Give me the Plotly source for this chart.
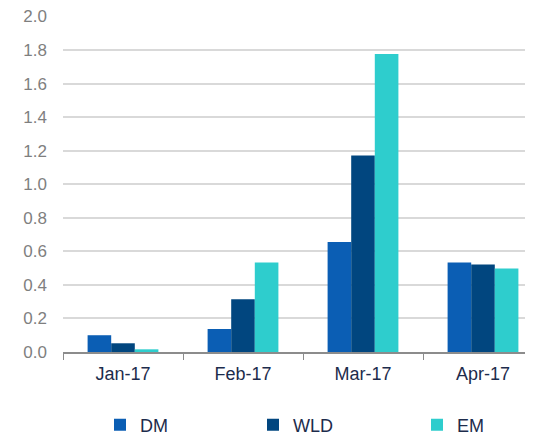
import plotly.graph_objects as go

categories = ["Jan-17", "Feb-17", "Mar-17", "Apr-17"]
dm = [0.10, 0.137, 0.655, 0.534]
wld = [0.052, 0.315, 1.171, 0.522]
em = [0.016, 0.534, 1.776, 0.498]
series_names = ["DM", "WLD", "EM"]
colors = ["#0b5eb4", "#01467f", "#2ecdcd"]
legend_ids = ["legend", "legend2", "legend3"]

# page body has an 8px margin, so the figure is drawn at (8, 8) in the window
W, H = 525, 428

fig = go.Figure()
for name, vals, col, lg in zip(series_names, [dm, wld, em], colors, legend_ids):
    fig.add_trace(go.Bar(x=categories, y=vals, name=name, legend=lg,
                         marker=dict(color=col, line=dict(width=0))))

legend_font = dict(size=18, color="#1d2c4c", family="Liberation Sans, Arial, sans-serif")
def leg(xpx):
    return dict(orientation="h", xref="container", yref="container",
                x=xpx / W, xanchor="left", y=(H - 417) / H, yanchor="middle",
                font=legend_font, bgcolor="rgba(0,0,0,0)", borderwidth=0)

fig.update_layout(
    width=W, height=H,
    margin=dict(l=55, r=0, t=8, b=84, autoexpand=False),
    paper_bgcolor="white", plot_bgcolor="white",
    barmode="group", bargap=0.41, bargroupgap=0,
    font=dict(family="Liberation Sans, Arial, sans-serif"),
    showlegend=True,
    legend=leg(92), legend2=leg(245), legend3=leg(409),
    xaxis=dict(range=[-0.5, 3.4167], showline=True, linecolor="#8c8c8c", linewidth=1.5,
               ticks="outside", tickson="boundaries", ticklen=6, tickcolor="#8c8c8c",
               ticklabelstandoff=5,
               tickfont=dict(size=18, color="#1d2c4c"), showgrid=False),
    yaxis=dict(range=[0, 2.003], tickvals=[0, 0.2, 0.4, 0.6, 0.8, 1.0, 1.2, 1.4, 1.6, 1.8, 2.0],
               tickformat=".1f", showgrid=True, ticklabeloverflow="allow",
               gridcolor="#d9d9d9", gridwidth=1.5, zeroline=False, showline=False,
               ticks="", ticklabelstandoff=15,
               tickfont=dict(size=17, color="#7f7f7f")),
)

fig.write_html("out.html")
